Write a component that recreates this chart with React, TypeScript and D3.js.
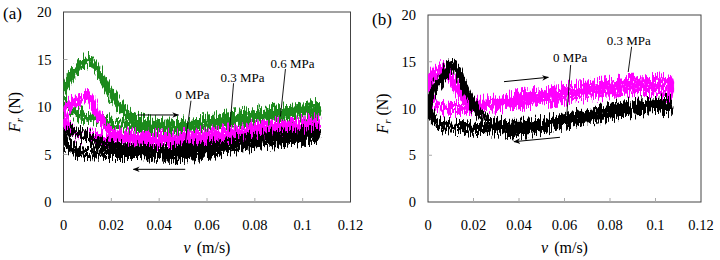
import React from "react";
import * as d3 from "d3";

type P = [number, number];

// ---------- data (v in m/s, Fr in N) ----------
const xTicks = [0, 0.02, 0.04, 0.06, 0.08, 0.1, 0.12];
const yTicks = [0, 5, 10, 15, 20];

// Panel (a)
const a06Accel: P[] = [[0, 11.6], [0.002, 12.8], [0.005, 13.8], [0.008, 14.6], [0.0105, 14.9], [0.013, 14.4], [0.016, 13.1], [0.02, 11.3], [0.024, 9.9], [0.028, 9.0], [0.033, 8.4], [0.04, 8.1], [0.05, 8.2], [0.06, 8.5], [0.07, 8.9], [0.08, 9.3], [0.09, 9.6], [0.1, 9.9], [0.106, 10.0]];
const a06Decel: P[] = [[0.106, 9.3], [0.1, 9.4], [0.09, 9.1], [0.08, 8.8], [0.07, 8.4], [0.06, 8.1], [0.05, 7.8], [0.04, 7.7], [0.03, 7.9], [0.02, 8.4], [0.012, 8.8], [0.006, 9.3], [0.002, 9.9], [0, 10.8]];
const a03Accel: P[] = [[0, 9.6], [0.002, 10.2], [0.005, 10.6], [0.008, 10.9], [0.0105, 11.1], [0.012, 10.5], [0.014, 9.5], [0.016, 8.6], [0.019, 7.7], [0.023, 7.1], [0.03, 6.9], [0.04, 6.8], [0.05, 6.9], [0.06, 7.1], [0.07, 7.4], [0.08, 7.8], [0.09, 8.1], [0.1, 8.4], [0.106, 8.5]];
const a03Decel: P[] = [[0.106, 7.9], [0.1, 7.8], [0.09, 7.5], [0.08, 7.2], [0.07, 6.8], [0.06, 6.5], [0.05, 6.3], [0.04, 6.3], [0.03, 6.4], [0.02, 6.6], [0.01, 6.9], [0.005, 7.3], [0.002, 7.9], [0, 9.0]];
const a0Accel: P[] = [[0, 7.4], [0.003, 7.5], [0.007, 7.2], [0.011, 6.7], [0.015, 6.2], [0.02, 5.8], [0.03, 5.5], [0.04, 5.4], [0.05, 5.5], [0.06, 5.9], [0.07, 6.3], [0.08, 6.7], [0.09, 7.0], [0.1, 7.2], [0.106, 7.3]];
const a0Decel: P[] = [[0.106, 6.8], [0.1, 6.7], [0.09, 6.4], [0.08, 6.1], [0.07, 5.7], [0.06, 5.2], [0.05, 4.8], [0.045, 4.8], [0.04, 5.0], [0.03, 5.1], [0.02, 5.1], [0.01, 5.2], [0.004, 5.5], [0.001, 6.1], [0, 7.2]];

// Panel (b)
const b03Accel: P[] = [[0, 12.2], [0.002, 13.5], [0.004, 14.0], [0.0066, 14.3], [0.0085, 13.9], [0.0105, 13.1], [0.0132, 12.0], [0.0168, 10.9], [0.02, 10.6], [0.03, 10.7], [0.04, 11.2], [0.05, 11.6], [0.06, 12.0], [0.07, 12.3], [0.08, 12.6], [0.09, 12.8], [0.1, 12.9], [0.106, 12.9]];
const b03Decel: P[] = [[0.106, 11.6], [0.1, 12.0], [0.09, 12.0], [0.08, 11.8], [0.07, 11.5], [0.06, 11.2], [0.05, 10.9], [0.04, 10.6], [0.03, 10.3], [0.02, 10.1], [0.01, 10.0], [0.005, 10.2], [0.002, 10.6], [0, 11.4]];
const b0Accel: P[] = [[0, 10.2], [0.002, 11.8], [0.004, 12.6], [0.0066, 13.4], [0.009, 14.4], [0.0105, 14.8], [0.012, 14.4], [0.0154, 12.7], [0.019, 10.9], [0.0227, 9.4], [0.026, 8.8], [0.03, 8.4], [0.04, 8.2], [0.05, 8.4], [0.06, 8.9], [0.07, 9.4], [0.08, 9.9], [0.09, 10.3], [0.1, 10.5], [0.106, 10.6]];
const b0Decel: P[] = [[0.106, 10.0], [0.1, 10.1], [0.09, 9.8], [0.08, 9.4], [0.07, 9.0], [0.06, 8.5], [0.05, 8.0], [0.04, 7.6], [0.03, 7.8], [0.02, 7.9], [0.012, 8.0], [0.006, 8.2], [0.002, 9.0], [0, 10.2]];

// annotation labels (data coords)
const labelsA = [
  { text: "0.6 MPa", at: [0.0865, 14.1] as P, from: [0.0928, 14.0] as P, to: [0.0907, 9.0] as P },
  { text: "0.3 MPa", at: [0.0656, 12.6] as P, from: [0.0711, 12.5] as P, to: [0.0694, 7.4] as P },
  { text: "0 MPa", at: [0.0467, 10.84] as P, from: [0.0533, 10.66] as P, to: [0.0505, 5.47] as P },
];
const arrowsA = [
  { from: [0.0309, 9.16] as P, to: [0.0481, 9.16] as P },
  { from: [0.0509, 3.44] as P, to: [0.0292, 3.44] as P },
];
const labelsB = [
  { text: "0.3 MPa", at: [0.0786, 16.8] as P, from: [0.0895, 16.6] as P, to: [0.088, 13.9] as P },
  { text: "0 MPa", at: [0.0549, 15.0] as P, from: [0.0627, 14.65] as P, to: [0.061, 9.3] as P },
];
const arrowsB = [
  { from: [0.0334, 12.87] as P, to: [0.0529, 13.34] as P },
  { from: [0.058, 6.92] as P, to: [0.0378, 6.45] as P },
];

const GREEN = "#1b8a1b";
const MAGENTA = "#ff00ff";
const BLACK = "#000000";
const tStyle = { fontFamily: "Liberation Serif" };

type Series = { accel: P[]; decel: P[]; color: string };

function Panel(props: {
  tag: string; x0: number; x1: number; y0: number; y1: number;
  series: Series[]; labels: typeof labelsA; arrows: typeof arrowsA; ylabX: number; id: string;
  tagX: number; tagY: number;
}) {
  const { x0, x1, y0, y1 } = props;
  const x = d3.scaleLinear().domain([0, 0.12]).range([x0, x1]);
  const y = d3.scaleLinear().domain([0, 20]).range([y1, y0]);
  const line = d3.line<P>().x(d => x(d[0])).y(d => y(d[1])).curve(d3.curveCatmullRom.alpha(0.5));
  const midX = (x0 + x1) / 2;
  const midY = (y0 + y1) / 2;
  return (
    <g>
      <defs>
        <filter id={`nz-${props.id}`} x="-5%" y="-30%" width="110%" height="160%">
          <feTurbulence type="fractalNoise" baseFrequency="0.85 0.06" numOctaves={2} seed={4} result="t" />
          <feComponentTransfer in="t" result="t2">
            <feFuncR type="linear" slope={3} intercept={-1} />
            <feFuncB type="linear" slope={0} intercept={0.5} />
          </feComponentTransfer>
          <feDisplacementMap in="SourceGraphic" in2="t2" scale={12} xChannelSelector="B" yChannelSelector="R" />
        </filter>
        <filter id={`nz2-${props.id}`} x="-5%" y="-30%" width="110%" height="160%">
          <feTurbulence type="fractalNoise" baseFrequency="1.2 0.1" numOctaves={1} seed={11} result="t" />
          <feComponentTransfer in="t" result="t2">
            <feFuncG type="linear" slope={3} intercept={-1} />
            <feFuncB type="linear" slope={0} intercept={0.5} />
          </feComponentTransfer>
          <feDisplacementMap in="SourceGraphic" in2="t2" scale={9} xChannelSelector="B" yChannelSelector="G" />
        </filter>
        <marker id={`ah-${props.id}`} viewBox="0 0 10 10" refX={9} refY={5} markerWidth={7} markerHeight={7} orient="auto" markerUnits="userSpaceOnUse">
          <path d="M0,1 L10,5 L0,9 L3,5 Z" fill="#000" />
        </marker>
        <clipPath id={`clip-${props.id}`}>
          <rect x={x0} y={y0} width={x1 - x0} height={y1 - y0} />
        </clipPath>
      </defs>
      <rect x={x0} y={y0} width={x1 - x0} height={y1 - y0} fill="#fff" stroke="#444" strokeWidth={1} />
      {xTicks.slice(1, -1).map(t => (
        <line key={`xt${t}`} x1={x(t)} x2={x(t)} y1={y1} y2={y1 - 4} stroke="#aaa" />
      ))}
      {yTicks.slice(1, -1).map(t => (
        <line key={`yt${t}`} x1={x0} x2={x0 + 4} y1={y(t)} y2={y(t)} stroke="#aaa" />
      ))}
      <g clipPath={`url(#clip-${props.id})`}>
        {props.series.map((s, i) => {
          const pts = [...s.accel, ...s.decel];
          const d = line(pts) || "";
          return (
            <g key={i}>
              <path d={d} fill="none" stroke={s.color} strokeWidth={7} strokeLinejoin="round" filter={`url(#nz-${props.id})`} />
              <path d={d} fill="none" stroke={s.color} strokeWidth={5} strokeLinejoin="round" filter={`url(#nz2-${props.id})`} />
            </g>
          );
        })}
      </g>
      {props.labels.map((l, i) => (
        <g key={`l${i}`}>
          <text x={x(l.at[0])} y={y(l.at[1])} style={tStyle} fontSize={13} fill="#000">{l.text}</text>
          <line x1={x(l.from[0])} y1={y(l.from[1])} x2={x(l.to[0])} y2={y(l.to[1])} stroke="#000" strokeWidth={0.9} />
        </g>
      ))}
      {props.arrows.map((a, i) => (
        <line key={`a${i}`} x1={x(a.from[0])} y1={y(a.from[1])} x2={x(a.to[0])} y2={y(a.to[1])} stroke="#000" strokeWidth={1} markerEnd={`url(#ah-${props.id})`} />
      ))}
      {xTicks.map(t => (
        <text key={`xl${t}`} x={x(t)} y={230} textAnchor="middle" style={tStyle} fontSize={14.5} fill="#000">{d3.format("")(t)}</text>
      ))}
      {yTicks.map(t => (
        <text key={`yl${t}`} x={x0 - 12} y={y(t) + 5} textAnchor="end" style={tStyle} fontSize={14.5} fill="#000">{t}</text>
      ))}
      <text x={midX} y={253} textAnchor="middle" style={tStyle} fontSize={16} fill="#000">
        <tspan fontStyle="italic">v</tspan>
        <tspan dx={6}>(m/s)</tspan>
      </text>
      <text transform={`translate(${props.ylabX},${midY + 5}) rotate(-90)`} textAnchor="middle" style={tStyle} fontSize={16} fill="#000">
        <tspan fontStyle="italic">F</tspan>
        <tspan fontStyle="italic" fontSize={11} dy={3}>r</tspan>
        <tspan dy={-3} dx={4}>(N)</tspan>
      </text>
      <text x={props.tagX} y={props.tagY} style={tStyle} fontSize={17} fill="#000">{props.tag}</text>
    </g>
  );
}

export default function App() {
  const seriesA: Series[] = [
    { accel: a06Accel, decel: a06Decel, color: GREEN },
    { accel: a03Accel, decel: a03Decel, color: MAGENTA },
    { accel: a0Accel, decel: a0Decel, color: BLACK },
  ];
  const seriesB: Series[] = [
    { accel: b03Accel, decel: b03Decel, color: MAGENTA },
    { accel: b0Accel, decel: b0Decel, color: BLACK },
  ];
  return (
    <svg width={720} height={260} style={{ position: "absolute", left: 0, top: 0, background: "#fff" }}>
      <rect width={720} height={260} fill="#fff" />
      <Panel tag="(a)" id="a" x0={63.5} x1={350.5} y0={12} y1={202} series={seriesA} labels={labelsA} arrows={arrowsA} ylabX={20} tagX={3} tagY={19} />
      <Panel tag="(b)" id="b" x0={428} x1={701} y0={15} y1={202} series={seriesB} labels={labelsB} arrows={arrowsB} ylabX={388} tagX={372} tagY={25} />
    </svg>
  );
}
